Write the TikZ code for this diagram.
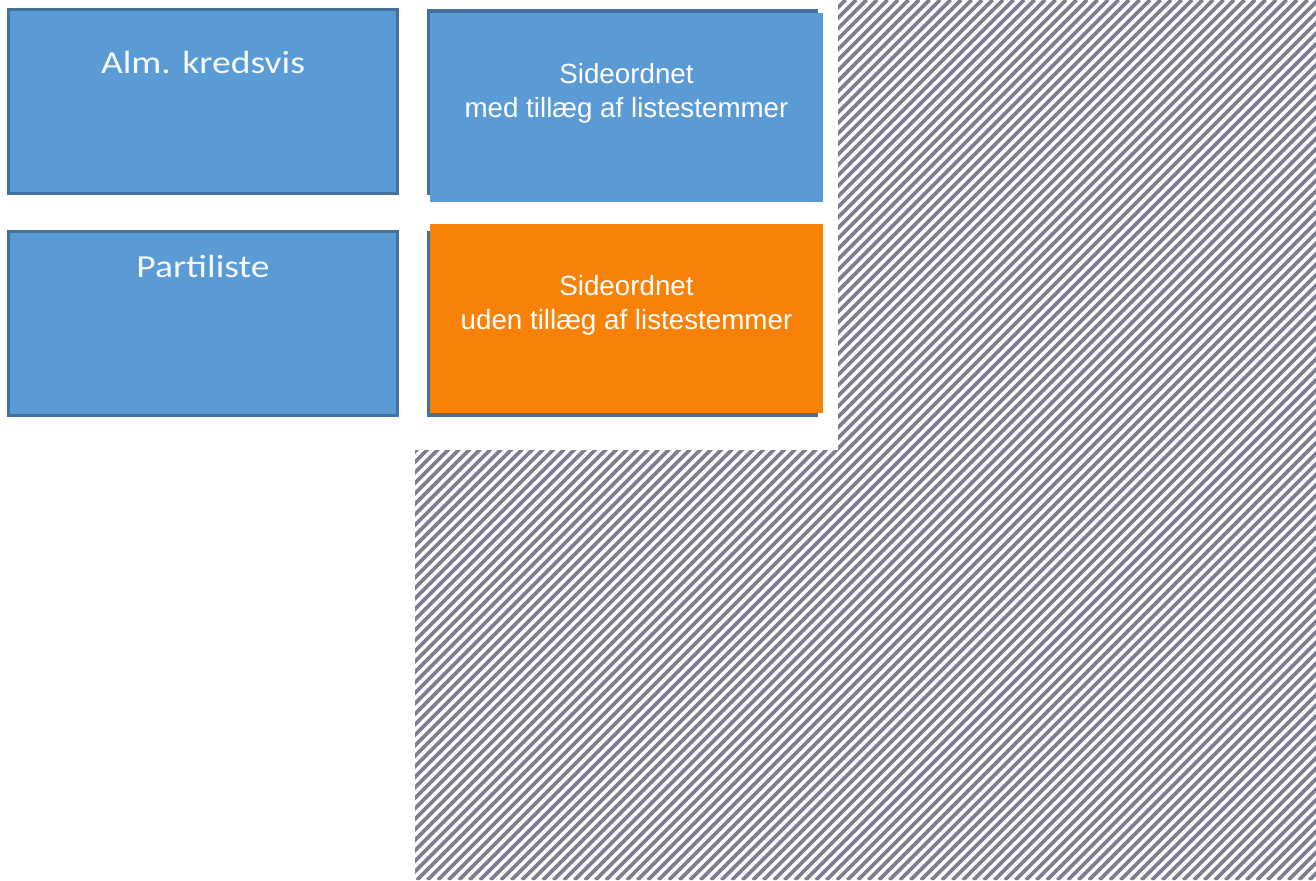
\documentclass[tikz,border=0pt]{standalone}
\usepackage{fontspec}
\setmainfont{Liberation Sans}
\newfontfamily\calibri{Carlito}
\definecolor{boxblue}{RGB}{91,155,213}
\definecolor{edgeblue}{RGB}{65,113,156}
\definecolor{boxorange}{RGB}{248,130,8}
\definecolor{hatchgray}{RGB}{125,125,148}
\newcommand{\widetext}[1]{\scalebox{1.17}[1]{#1}}
\begin{document}
\begin{tikzpicture}[x=0.02cm,y=-0.02cm,
  bluebox/.style={draw=edgeblue,fill=boxblue,line width=1.7pt,inner sep=0pt,minimum width=7.8cm,minimum height=3.7cm},
  shadowbox/.style={fill=edgeblue,inner sep=0pt,minimum width=7.82cm,minimum height=3.72cm},
  flatbox/.style={inner sep=0pt,minimum width=7.86cm,minimum height=3.78cm},
  lefttxt/.style={text=white!94!boxblue,font=\calibri\fontsize{18.3}{21}\selectfont,anchor=base},
  righttxt/.style={text=white,font=\fontsize{15.8}{19.3}\selectfont,align=center}]
  \useasboundingbox (0,0) rectangle (1316,880);
  \begin{scope}
    \clip (838,0) -- (1316,0) -- (1316,880) -- (415,880) -- (415,450) -- (838,450) -- cycle;
    \foreach \c in {0,...,172}
      \draw[hatchgray,line width=2.1pt] (415+10.5*\c,0) -- (415+10.5*\c-880,880);
  \end{scope}
  \node[bluebox] (alm) at (203,101.5) {};
  \node[lefttxt] (almtxt) at (203,73) {\widetext{Alm. kredsvis}};
  \node[bluebox] (parti) at (203,323.5) {};
  \node[lefttxt] (partitxt) at (203,277) {\widetext{Partiliste}};
  \node[shadowbox] (medshadow) at (622.5,102) {};
  \node[flatbox,fill=boxblue] (med) at (626.5,107.5) {};
  \node[righttxt] (medtxt) at (626.5,93) {Sideordnet\\med tillæg af listestemmer};
  \node[shadowbox] (udenshadow) at (622.5,324) {};
  \node[flatbox,fill=boxorange] (uden) at (626.5,318.5) {};
  \node[righttxt] (udentxt) at (626.5,305) {Sideordnet\\uden tillæg af listestemmer};
\end{tikzpicture}
\end{document}
